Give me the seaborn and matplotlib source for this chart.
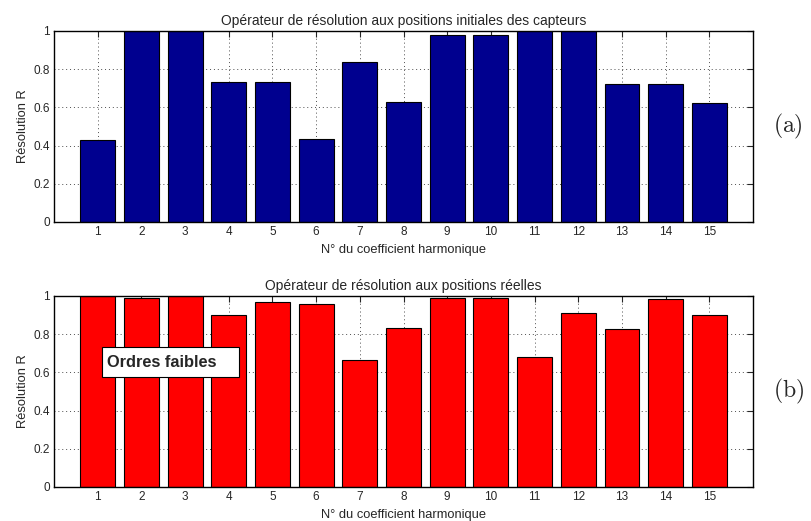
import numpy as np
import pandas as pd
import matplotlib
matplotlib.use("Agg")
import matplotlib.pyplot as plt
from matplotlib.patches import Rectangle
import seaborn as sns

# Harmonic coefficient indices
coef = list(range(1, 16))

# Resolution at the initial sensor positions (a)
res_initial = [0.428, 1.0, 1.0, 0.731, 0.731, 0.432, 0.837, 0.629,
               0.979, 0.979, 1.0, 1.0, 0.722, 0.722, 0.621]

# Resolution at the real sensor positions (b)
res_reelle = [1.0, 0.988, 1.0, 0.900, 0.966, 0.956, 0.664, 0.832,
              0.988, 0.988, 0.680, 0.909, 0.827, 0.983, 0.899]

titles = ["Opérateur de résolution aux positions initiales des capteurs",
          "Opérateur de résolution aux positions réelles"]
panel_tags = ["(a)", "(b)"]
colors = ["#00008F", "#FF0000"]

sns.set_style("white")
plt.rcParams["font.family"] = ["Liberation Sans", "DejaVu Sans"]
plt.rcParams["mathtext.fontset"] = "cm"

fig = plt.figure(figsize=(8.11, 5.21), dpi=100)
ax_top = fig.add_axes([0.0666, 0.574, 0.862, 0.3666])
ax_bot = fig.add_axes([0.0666, 0.0653, 0.862, 0.3666])

for ax, vals, title, tag, col in zip([ax_top, ax_bot], [res_initial, res_reelle],
                                     titles, panel_tags, colors):
    df = pd.DataFrame({"coef": coef, "R": vals})
    sns.barplot(data=df, x="coef", y="R", native_scale=True, width=0.8,
                color=col, saturation=1, edgecolor="black", linewidth=0.8, ax=ax)
    ax.set_xlim(0, 16)
    ax.set_ylim(0, 1)
    ax.set_xticks(coef)
    ax.set_xticklabels([str(c) for c in coef])
    ax.set_yticks([0, 0.2, 0.4, 0.6, 0.8, 1])
    ax.set_yticklabels(["0", "0.2", "0.4", "0.6", "0.8", "1"])
    ax.set_axisbelow(True)
    ax.grid(True, linestyle=(0, (1, 3)), color="0.3", linewidth=0.7)
    ax.tick_params(direction="in", top=True, right=True, length=4,
                   labelsize=8.5, pad=3, width=0.8)
    for sp in ax.spines.values():
        sp.set_visible(True)
        sp.set_color("black")
        sp.set_linewidth(1.0)
    ax.set_title(title, fontsize=10, pad=4)
    ax.set_xlabel("N° du coefficient harmonique", fontsize=9.3, labelpad=4)
    ax.set_ylabel("Résolution R", fontsize=9.3, labelpad=3)
    ax.text(1.029, 0.5, r"$\mathrm{" + tag + "}$", transform=ax.transAxes,
            fontsize=17, va="center", ha="left")

# "Ordres faibles" label box
ax_bot.add_patch(Rectangle((1.10, 0.576), 3.13, 0.157, facecolor="white",
                           edgecolor="black", linewidth=0.8, zorder=5))
ax_bot.text(1.22, 0.654, "Ordres faibles", fontsize=11.8, fontweight="bold",
            va="center", ha="left", zorder=6)

fig.savefig("out.png", dpi=100)
